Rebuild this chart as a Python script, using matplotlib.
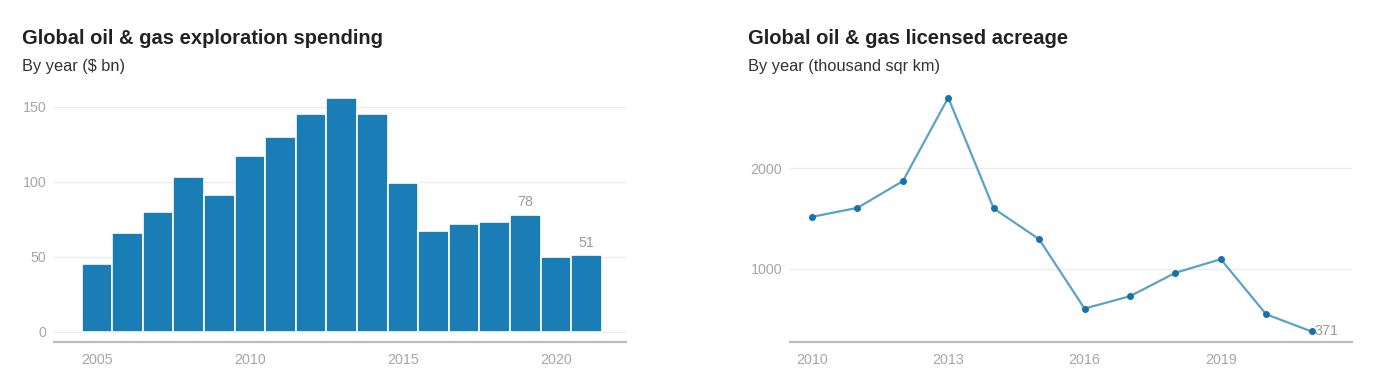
import matplotlib
matplotlib.use("Agg")
import matplotlib.pyplot as plt

plt.rcParams['font.family'] = ['Liberation Sans', 'DejaVu Sans']

# Data
spend_years = [2005, 2006, 2007, 2008, 2009, 2010, 2011, 2012, 2013, 2014,
               2015, 2016, 2017, 2018, 2019, 2020, 2021]
spend_values = [45, 66, 80, 103, 91, 117, 130, 145, 156, 145,
                99, 67, 72, 73, 78, 50, 51]
spend_labels = {2019: "78", 2021: "51"}

acre_years = [2010, 2011, 2012, 2013, 2014, 2015, 2016, 2017, 2018, 2019, 2020, 2021]
acre_values = [1516, 1606, 1873, 2706, 1600, 1293, 600, 723, 957, 1093, 543, 371]

left_title = "Global oil & gas exploration spending"
left_sub = "By year ($ bn)"
right_title = "Global oil & gas licensed acreage"
right_sub = "By year (thousand sqr km)"

W, H = 1375, 376
fig = plt.figure(figsize=(W / 100, H / 100), dpi=100)

tick_color = "#a6a6a6"
grid_color = "#ececec"
axis_color = "#bdbdbd"
bar_color = "#1a7db5"
TICK_FS = 10.3

def px_axes(x0, x1, ytop, ybot):
    return fig.add_axes([x0 / W, 1 - ybot / H, (x1 - x0) / W, (ybot - ytop) / H])

def style(ax):
    for s in ['top', 'right', 'left']:
        ax.spines[s].set_visible(False)
    ax.spines['bottom'].set_color(axis_color)
    ax.spines['bottom'].set_linewidth(1.6)
    ax.tick_params(axis='both', length=0, labelsize=TICK_FS, labelcolor=tick_color)
    ax.tick_params(axis='x', pad=8)
    ax.tick_params(axis='y', pad=5.5)
    ax.grid(axis='y', color=grid_color, linewidth=1.0)
    ax.set_axisbelow(True)

# Left chart
ax1 = px_axes(54, 626, 90, 342)
style(ax1)
ax1.bar(spend_years, spend_values, width=1.0, color=bar_color,
        edgecolor="white", linewidth=1.2, zorder=2)
ax1.set_xlim(2005 - 43 / 30.6, 2005 + 529 / 30.6)
ax1.set_ylim(-6.7, 161)
ax1.set_yticks([0, 50, 100, 150])
ax1.set_xticks([2005, 2010, 2015, 2020])
for yr, lab in spend_labels.items():
    v = spend_values[spend_years.index(yr)]
    ax1.annotate(lab, (yr, v), xytext=(0, 4), textcoords='offset points',
                 ha='center', va='bottom', fontsize=TICK_FS, color="#9a9a9a")

# Right chart
ax2 = px_axes(790, 1352, 90, 342)
style(ax2)
ax2.plot(acre_years, acre_values, color="#5ba3c6", linewidth=1.6, zorder=2)
ax2.plot(acre_years, acre_values, linestyle='none', marker='o', markersize=4,
         color="#1672ad", zorder=3)
ax2.set_xlim(2009.515, 2021.89)
ax2.set_ylim(266, 2783)
ax2.set_yticks([1000, 2000])
ax2.set_xticks([2010, 2013, 2016, 2019])
ax2.annotate(str(acre_values[-1]), (acre_years[-1], acre_values[-1]),
             xytext=(2, 0), textcoords='offset points', ha='left', va='center',
             fontsize=TICK_FS, color="#9a9a9a")

# Titles
fig.text(22 / W, 1 - 38 / H, left_title, fontsize=14.5, fontweight='bold',
         color="#222222", ha='left', va='center')
fig.text(22 / W, 1 - 66 / H, left_sub, fontsize=11.8, color="#333333",
         ha='left', va='center')
fig.text(748 / W, 1 - 38 / H, right_title, fontsize=14.5, fontweight='bold',
         color="#222222", ha='left', va='center')
fig.text(748 / W, 1 - 66 / H, right_sub, fontsize=11.8, color="#333333",
         ha='left', va='center')

fig.savefig("out.png", dpi=100, facecolor="white")
